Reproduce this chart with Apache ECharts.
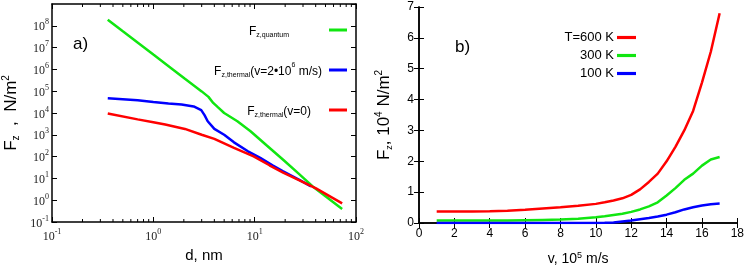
<!DOCTYPE html>
<html><head><meta charset="utf-8">
<script src="https://cdn.jsdelivr.net/npm/echarts@6/dist/echarts.min.js"></script>
<style>html,body{margin:0;padding:0;background:#fff}#c{width:747px;height:271px}</style>
</head><body><div id="c"></div>
<script>
// ---- Panel a) data: d (nm) vs F (N/m^2) ----
const dQuantum = [0.355, 0.5, 0.72, 1.0, 1.5, 2.05, 3.0, 3.5, 3.9, 4.3, 5.0, 6.75, 9.1, 13, 19.1, 27, 37.4, 50, 73];
const fQuantum = [1.9e8, 5.6e7, 1.55e7, 4.8e6, 1.14e6, 3.7e5, 9.8e4, 5.5e4, 2.9e4, 1.9e4, 1.0e4, 4.2e3, 1.45e3, 3.4e2, 72, 17, 4.3, 1.5, 0.39];
const dThermalV = [0.355, 0.7, 1.0, 1.41, 1.9, 2.5, 2.97, 3.2, 3.44, 4.0, 5.0, 6.25, 8.5, 11.35, 15, 19.1, 27, 36];
const fThermalV = [4.7e4, 3.8e4, 3.2e4, 2.75e4, 2.45e4, 2.0e4, 1.35e4, 8.0e3, 4.2e3, 1.86e3, 1.0e3, 450, 180, 87, 40, 21, 9, 4.3];
const dThermal0 = [0.355, 0.7, 1.0, 1.31, 2.05, 3.0, 4.0, 6.25, 9.77, 14, 19.1, 28, 40.3, 73];
const fThermal0 = [9.5e3, 5.1e3, 3.8e3, 2.95e3, 1.86e3, 1.0e3, 650, 250, 102, 40, 18.6, 8, 3.5, 0.72];
const minorTicksA = [0.2,0.3,0.4,0.5,0.6,0.7,0.8,0.9,2,3,4,5,6,7,8,9,20,30,40,50,60,70,80,90];

// ---- Panel b) data: v (10^5 m/s) vs F (10^4 N/m^2) ----
const vVals = [1,2,3,4,5,6,7,8,9,10,10.5,11,11.5,12,12.5,13,13.5,14,14.5,15,15.5,16,16.5,17];
const f600 = [0.37,0.37,0.37,0.38,0.40,0.43,0.47,0.51,0.56,0.62,0.67,0.73,0.80,0.91,1.09,1.33,1.60,2.00,2.47,3.00,3.63,4.55,5.55,6.80];
const f300 = [0.08,0.08,0.08,0.08,0.08,0.09,0.10,0.11,0.14,0.19,0.22,0.26,0.30,0.36,0.44,0.54,0.67,0.89,1.13,1.40,1.60,1.86,2.06,2.14];
const f100 = [0,0,0,0,0,0,0,0,0,0,0.005,0.02,0.05,0.08,0.12,0.16,0.21,0.27,0.35,0.44,0.51,0.57,0.61,0.63];

const zip = (a, b) => a.map((x, i) => [x, b[i]]);
const SANS = 'Liberation Sans';
const SERIF = 'Liberation Serif';
const RED = '#ff0000', GREEN = '#11e611', BLUE = '#0000ff';

const chart = echarts.init(document.getElementById('c'), null, {renderer: 'canvas'});

const logLabel = {
  fontFamily: SERIF, color: '#000',
  formatter: v => '{b|10}{s|' + Math.round(Math.log10(v)) + '}',
  rich: {
    b: {fontFamily: SERIF, fontSize: 12, color: '#222', lineHeight: 15, verticalAlign: 'bottom'},
    s: {fontFamily: SERIF, fontSize: 8, color: '#222', lineHeight: 15, verticalAlign: 'top'}
  }
};
const lineBox = {show: true, lineStyle: {color: '#000', width: 1.5}};
const tickIn = {show: true, inside: true, length: 5, lineStyle: {color: '#000', width: 1}};

const legendRich = {
  m: {fontFamily: SANS, fontSize: 12, color: '#000', lineHeight: 16, verticalAlign: 'bottom'},
  sub: {fontFamily: SANS, fontSize: 7, color: '#000', lineHeight: 16, verticalAlign: 'bottom', padding: [0, 0, -1, 0]},
  sup: {fontFamily: SANS, fontSize: 7, color: '#000', lineHeight: 16, verticalAlign: 'top'}
};
const legendNames = {
  quantum: '{m|F}{sub|z,quantum}',
  thermalV: '{m|F}{sub|z,thermal}{m|(v=2•10}{sup|6}{m| m/s)}',
  thermal0: '{m|F}{sub|z,thermal}{m|(v=0)}',
  T600: 'T=600 K', T300: '300 K', T100: '100 K'
};
function mkLegend(name, top, right, padRight) {
  return {
    data: [name], top: top, right: right, align: 'right', orient: 'vertical',
    padding: 0, itemWidth: 18, itemHeight: 14, itemGap: 0,
    icon: 'path://M0,6L18,6L18,9L0,9Z',
    formatter: n => legendNames[n],
    textStyle: {fontFamily: SANS, fontSize: 12, color: '#000', rich: legendRich, padding: [0, padRight, 0, 0]},
    selectedMode: false
  };
}

const option = {
  animation: false,
  backgroundColor: '#fff',
  grid: [
    {left: 45, right: 391, top: 4, bottom: 49},
    {left: 419, right: 5, top: 7, bottom: 42}
  ],
  legend: [
    mkLegend('quantum', 26, 400, 35),
    mkLegend('thermalV', 62, 400, 2),
    mkLegend('thermal0', 106, 400, 13),
    {
      data: ['T600', 'T300', 'T100'], top: 31, right: 111, align: 'right', orient: 'vertical',
      padding: 0, itemWidth: 19, itemHeight: 14, itemGap: 5,
      icon: 'path://M0,6L18,6L18,9L0,9Z',
      formatter: n => legendNames[n],
      textStyle: {fontFamily: SANS, fontSize: 13, color: '#000', padding: [0, -2, 0, 0]},
      selectedMode: false
    }
  ],
  xAxis: [
    {gridIndex: 0, type: 'log', min: 0.1, max: 100, splitNumber: 3, position: 'bottom',
     name: 'd, nm', nameLocation: 'middle', nameGap: 25,
     nameTextStyle: {fontFamily: SANS, fontSize: 15, color: '#000'},
     axisLine: lineBox, axisTick: tickIn, splitLine: {show: false},
     axisLabel: Object.assign({margin: 6}, logLabel)},
    {gridIndex: 0, type: 'log', min: 0.1, max: 100, splitNumber: 3, position: 'top',
     axisLine: lineBox, axisTick: tickIn, axisLabel: {show: false}, splitLine: {show: false}},
    {gridIndex: 1, type: 'value', min: 0, max: 18, interval: 2, position: 'bottom',
     name: 'v, 10{s|5} m/s', nameLocation: 'middle', nameGap: 28,
     nameTextStyle: {fontFamily: SANS, fontSize: 14, color: '#000',
       rich: {s: {fontFamily: SANS, fontSize: 9, color: '#000', verticalAlign: 'top', lineHeight: 16}}},
     axisLine: lineBox, axisTick: tickIn, splitLine: {show: false},
     axisLabel: {fontFamily: SANS, fontSize: 12, color: '#000', margin: 5}},
    {gridIndex: 1, type: 'value', min: 0, max: 18, interval: 2, position: 'top',
     axisLine: lineBox, axisTick: tickIn, axisLabel: {show: false}, splitLine: {show: false}}
  ],
  yAxis: [
    {gridIndex: 0, type: 'log', min: 0.1, max: 1e9, splitNumber: 10, position: 'left',
     name: 'F{sub|z}  ,  N/m{sup|2}', nameLocation: 'middle', nameGap: 31,
     nameTextStyle: {fontFamily: SANS, fontSize: 17, color: '#000',
       rich: {sub: {fontFamily: SANS, fontSize: 10, color: '#000', verticalAlign: 'bottom', lineHeight: 20},
              sup: {fontFamily: SANS, fontSize: 10, color: '#000', verticalAlign: 'top', lineHeight: 20}}},
     axisLine: lineBox, axisTick: tickIn, splitLine: {show: false},
     axisLabel: Object.assign({margin: 3, showMaxLabel: false}, logLabel)},
    {gridIndex: 0, type: 'log', min: 0.1, max: 1e9, splitNumber: 10, position: 'right',
     axisLine: lineBox, axisTick: tickIn, axisLabel: {show: false}, splitLine: {show: false}},
    {gridIndex: 1, type: 'value', min: 0, max: 7, interval: 1, position: 'left',
     name: 'F{sub|z}, 10{sup|4} N/m{sup|2}', nameLocation: 'middle', nameGap: 25,
     nameTextStyle: {fontFamily: SANS, fontSize: 17, color: '#000',
       rich: {sub: {fontFamily: SANS, fontSize: 9, color: '#000', verticalAlign: 'bottom', lineHeight: 20},
              sup: {fontFamily: SANS, fontSize: 10, color: '#000', verticalAlign: 'top', lineHeight: 20}}},
     axisLine: lineBox, axisTick: tickIn, splitLine: {show: false},
     axisLabel: {fontFamily: SANS, fontSize: 12, color: '#000', margin: 5}},
    {gridIndex: 1, type: 'value', min: 0, max: 7, interval: 1, position: 'right',
     axisLine: lineBox, axisTick: tickIn, axisLabel: {show: false}, splitLine: {show: false}}
  ],
  graphic: [
    {type: 'text', left: 73, top: 36, style: {text: 'a)', fontFamily: SANS, fontSize: 17, fill: '#000'}},
    {type: 'text', left: 455, top: 39, style: {text: 'b)', fontFamily: SANS, fontSize: 17, fill: '#000'}}
  ],
  series: [
    {name: 'quantum', type: 'line', xAxisIndex: 0, yAxisIndex: 0, data: zip(dQuantum, fQuantum),
     showSymbol: false, lineStyle: {color: GREEN, width: 2.5}, itemStyle: {color: GREEN}},
    {name: 'thermalV', type: 'line', xAxisIndex: 0, yAxisIndex: 0, data: zip(dThermalV, fThermalV),
     showSymbol: false, lineStyle: {color: BLUE, width: 2.5}, itemStyle: {color: BLUE}},
    {name: 'thermal0', type: 'line', xAxisIndex: 0, yAxisIndex: 0, data: zip(dThermal0, fThermal0),
     showSymbol: false, lineStyle: {color: RED, width: 2.5}, itemStyle: {color: RED}},
    {name: 'minorA', type: 'custom', xAxisIndex: 0, yAxisIndex: 0, clip: false, silent: true,
     data: minorTicksA.map(v => [v, 1]), encode: {x: 0, y: 1},
     renderItem: (params, api) => {
       const v = api.value(0);
       const b = api.coord([v, 0.1]);
       const t = api.coord([v, 1e9]);
       const st = {stroke: '#000', lineWidth: 1};
       return {type: 'group', children: [
         {type: 'line', shape: {x1: b[0], y1: b[1], x2: b[0], y2: b[1] - 3}, style: st},
         {type: 'line', shape: {x1: t[0], y1: t[1], x2: t[0], y2: t[1] + 3}, style: st}
       ]};
     }},
    {name: 'T600', type: 'line', xAxisIndex: 2, yAxisIndex: 2, data: zip(vVals, f600),
     showSymbol: false, lineStyle: {color: RED, width: 2.5}, itemStyle: {color: RED}},
    {name: 'T300', type: 'line', xAxisIndex: 2, yAxisIndex: 2, data: zip(vVals, f300),
     showSymbol: false, lineStyle: {color: GREEN, width: 2.5}, itemStyle: {color: GREEN}},
    {name: 'T100', type: 'line', xAxisIndex: 2, yAxisIndex: 2, data: zip(vVals, f100),
     showSymbol: false, lineStyle: {color: BLUE, width: 2.5}, itemStyle: {color: BLUE}}
  ]
};
chart.setOption(option);
</script></body></html>
